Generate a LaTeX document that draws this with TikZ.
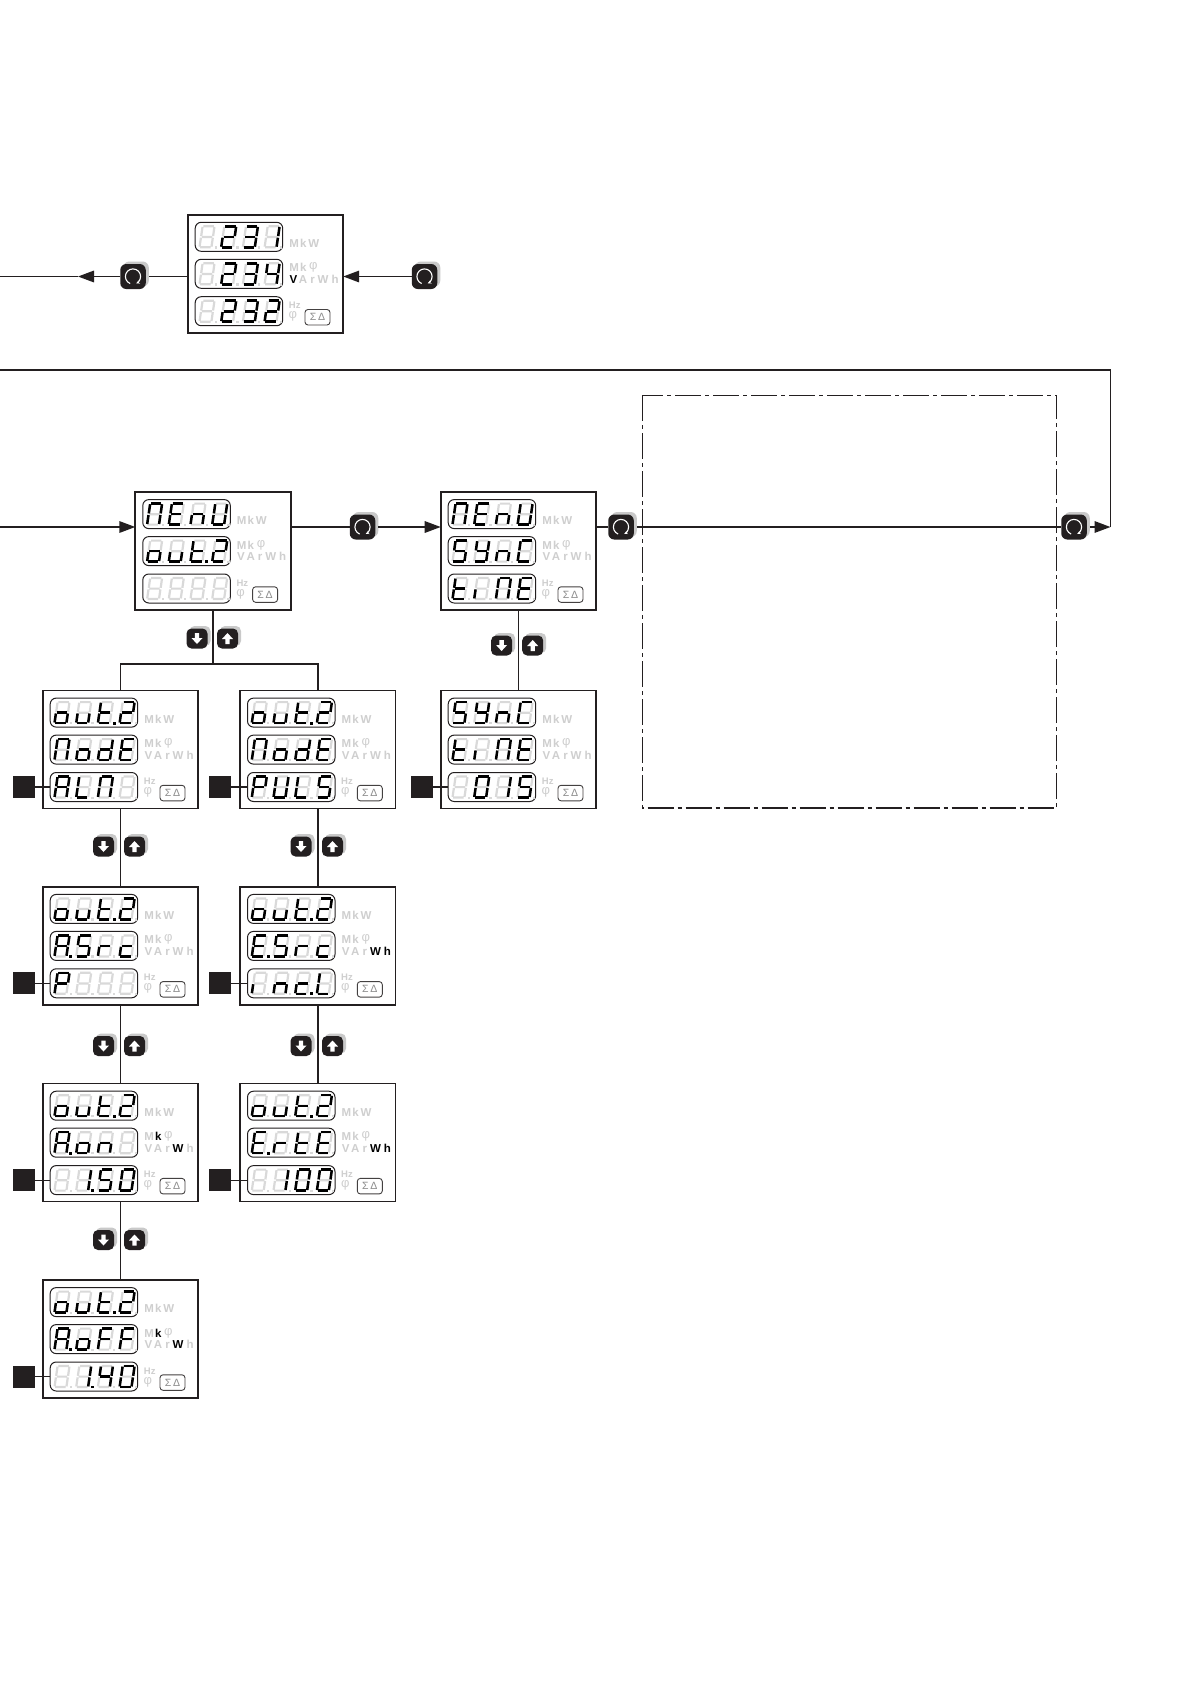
\documentclass[tikz,border=0pt]{standalone}
\usepackage{fontspec}
\setmainfont{Liberation Sans}
\usetikzlibrary{arrows.meta}
\definecolor{ink}{HTML}{231F20}
\definecolor{uoff}{HTML}{CFCFCF}
\definecolor{segoff}{HTML}{D9D9D9}
\definecolor{shade}{HTML}{C9C9C9}
\tikzset{
  panelbox/.style={draw=ink,line width=1.7pt,minimum width=155.5pt,minimum height=118pt,inner sep=0pt,outer sep=0pt,anchor=north west},
  dispbox/.style={draw=ink,line width=1pt,rounded corners=6pt,minimum width=87.5pt,minimum height=29pt,inner sep=0pt,outer sep=0pt,anchor=north west},
  sumbox/.style={draw=ink!85,line width=0.9pt,rounded corners=3pt,minimum width=25pt,minimum height=15.5pt,inner sep=0pt,outer sep=0pt,anchor=north west,text=black!45,font=\fontsize{10.5}{10.5}\selectfont},
  setbox/.style={fill=ink,minimum size=22pt,inner sep=0pt,outer sep=0pt},
  conn/.style={draw=ink,line width=1.7pt},
  thin conn/.style={draw=ink,line width=1.1pt},
  arr/.style={conn,-{Triangle[length=16pt,width=11.5pt]}},
  knobbox/.style={fill=ink,rounded corners=6pt,minimum width=25.5pt,minimum height=25pt,inner sep=0pt,outer sep=0pt},
  btnbox/.style={fill=ink,rounded corners=5pt,minimum width=21pt,minimum height=20pt,inner sep=0pt,outer sep=0pt},
  shadebox/.style={fill=shade,rounded corners=6pt,minimum width=25.5pt,minimum height=25pt,inner sep=0pt,outer sep=0pt},
  ulabel/.style={anchor=base west,inner sep=0pt,outer sep=0pt,font=\fontsize{11.5}{11.5}\selectfont\bfseries},
  uphi/.style={anchor=base west,inner sep=0pt,outer sep=0pt,font=\fontsize{13}{13}\selectfont,text=uoff},
  usmall/.style={anchor=base west,inner sep=0pt,outer sep=0pt,font=\fontsize{9.5}{9.5}\selectfont\bfseries,text=uoff},
  sgon/.style={draw=black,line width=2.5pt,line cap=butt},
  sgoff/.style={draw=segoff,line width=2.2pt,line cap=butt},
  dashbox/.style={draw=ink,line width=1.1pt,dash pattern=on 26pt off 4pt on 4pt off 4pt},
}
\makeatletter
\newcommand\segA{(4.2,0.6)--(14.6,0.6)}
\newcommand\segB{(15.2,1.2)--(13.9,10.4)}
\newcommand\segC{(13.6,12)--(12.3,21)}
\newcommand\segD{(0.9,21.6)--(11.4,21.6)}
\newcommand\segE{(0.4,21)--(1.7,12)}
\newcommand\segF{(2,10.4)--(3.3,1.2)}
\newcommand\segG{(2.6,11.2)--(12.8,11.2)}
\newcommand\sga{\draw[sgon] \segA;}
\newcommand\sgb{\draw[sgon] \segB;}
\newcommand\sgc{\draw[sgon] \segC;}
\newcommand\sgd{\draw[sgon] \segD;}
\newcommand\sge{\draw[sgon] \segE;}
\newcommand\sgf{\draw[sgon] \segF;}
\newcommand\sgg{\draw[sgon] \segG;}
\newcommand\sgp{\fill[black] (15.2,20.2) rectangle (18,23);}
\newcommand\segall{\draw[sgoff] \segA \segB \segC \segD \segE \segF \segG;\fill[segoff] (15.4,20.6) rectangle (17.6,22.8);}
\def\segloop#1{\ifx#1\relax\else\csname sg#1\endcsname\expandafter\segloop\fi}
\newcommand\digitat[2]{\begin{scope}[shift={(#1,0)}]\segall\segloop#2\relax\end{scope}}
\newcommand\disprow[6]{%
  \node[dispbox] (\pn-d#1) at (7.5,#2) {};
  \begin{scope}[shift={(11.5,#2+3.4)}]
    \digitat{0}{#3}\digitat{21.7}{#4}\digitat{43.4}{#5}\digitat{65.1}{#6}
  \end{scope}}
\newcommand\unitl[4]{%
  \def\tsttok{\in@{#2}}\expandafter\tsttok\expandafter{\onset}%
  \ifin@\def\ucl{black}\else\def\ucl{uoff}\fi
  \node[ulabel,text=\ucl] (\pn-#1) at (#3,#4) {#2};}
\newcommand\unito[4]{\node[ulabel,text=uoff] (\pn-#1) at (#3,#4) {#2};}
% name, x, y, lit units, row1, row2, row3
\newcommand\panel[7]{%
  \def\pn{#1}\def\onset{#4}%
  \node[panelbox] (#1) at (#2,#3) {};
  \begin{scope}[shift={(#2,#3)}]
    \disprow{1}{7.6}#5
    \disprow{2}{44.6}#6
    \disprow{3}{82}#7
    \unito{a1}{M}{101.6}{32.6}\unito{a2}{k}{112.3}{32.6}\unito{a3}{W}{120.6}{32.6}
    \unito{b1}{M}{101.6}{57}\unitl{b2}{k}{112.3}{57}
    \node[uphi] (\pn-b3) at (121.5,55) {φ};
    \unitl{c1}{V}{101.8}{68.7}\unito{c2}{A}{111.2}{68.7}\unito{c3}{r}{122.6}{68.7}\unitl{c4}{W}{130}{68.7}\unitl{c5}{h}{143.8}{68.7}
    \node[usmall] (\pn-e1) at (101.2,94) {Hz};
    \node[uphi] (\pn-e2) at (101,104) {φ};
    \node[sumbox] (\pn-s) at (117.3,94.8) {Σ\,Δ};
  \end{scope}}
\newcommand\knob[3]{%
  \node[shadebox] (#1s) at (#2+3,#3-2.5) {};
  \node[knobbox] (#1) at (#2,#3) {};
  \draw[white,line width=1.1pt,-{Stealth[length=3.5pt,width=3.5pt]}] (#1) ++(112:7.6) arc[start angle=112,end angle=425,radius=7.6];}
\newcommand\updown[4]{%
  \node[btnbox,fill=shade] (#1ds) at (#2+3,#4-2.5) {};
  \node[btnbox] (#1d) at (#2,#4) {};
  \fill[white,shift={(#2,#4)}] (-2.2,-5.5)--(2.2,-5.5)--(2.2,-0.5)--(5.5,-0.5)--(0,5.5)--(-5.5,-0.5)--(-2.2,-0.5)--cycle;
  \node[btnbox,fill=shade] (#1us) at (#3+3,#4-2.5) {};
  \node[btnbox] (#1u) at (#3,#4) {};
  \fill[white,shift={(#3,#4)}] (-2.2,5.5)--(2.2,5.5)--(2.2,0.5)--(5.5,0.5)--(0,-5.5)--(-5.5,0.5)--(-2.2,0.5)--cycle;}
\makeatother
\begin{document}
\begin{tikzpicture}[x=1pt,y=-1pt]
\useasboundingbox (0,0) rectangle (1191,1684);
\path[fill=white] (0,0) rectangle (1191,1684);
% dash-dot frame
\draw[dashbox] (642.3,395.3) rectangle (1056.7,808);
% panels
\panel{top}{187.7}{214.7}{V}{{}{abdeg}{abcdg}{bc}}{{}{abdeg}{abcdg}{bcfg}}{{}{abdeg}{abcdg}{abdeg}}
\panel{mo}{135.3}{492}{}{{abcef}{adefg}{ceg}{bcdef}}{{cdeg}{cde}{defgp}{abdeg}}{{}{}{}{}}
\panel{ms}{440.7}{492}{}{{abcef}{adefg}{ceg}{bcdef}}{{acdfg}{bcdfg}{ceg}{adef}}{{defg}{e}{abcef}{adefg}}
\panel{st}{440.7}{690.5}{}{{acdfg}{bcdfg}{ceg}{adef}}{{defg}{e}{abcef}{adefg}}{{}{abcdef}{bc}{acdfg}}
\panel{a1}{42.7}{690.5}{}{{cdeg}{cde}{defgp}{abdeg}}{{abcef}{cdeg}{bcdeg}{adefg}}{{abcefg}{def}{abcef}{}}
\panel{a2}{42.7}{886.8}{}{{cdeg}{cde}{defgp}{abdeg}}{{abcefgp}{acdfg}{eg}{deg}}{{abefg}{}{}{}}
\panel{a3}{42.7}{1083.6}{kW}{{cdeg}{cde}{defgp}{abdeg}}{{abcefgp}{cdeg}{ceg}{}}{{}{bcp}{acdfg}{abcdef}}
\panel{a4}{42.7}{1280}{kW}{{cdeg}{cde}{defgp}{abdeg}}{{abcefgp}{cdeg}{aefg}{aefg}}{{}{bcp}{bcfg}{abcdef}}
\panel{b1}{240}{690.5}{}{{cdeg}{cde}{defgp}{abdeg}}{{abcef}{cdeg}{bcdeg}{adefg}}{{abefg}{bcdef}{def}{acdfg}}
\panel{b2}{240}{886.8}{Wh}{{cdeg}{cde}{defgp}{abdeg}}{{adefgp}{acdfg}{eg}{deg}}{{e}{ceg}{degp}{def}}
\panel{b3}{240}{1083.6}{Wh}{{cdeg}{cde}{defgp}{abdeg}}{{adefgp}{eg}{defg}{adefg}}{{}{bc}{abcdef}{abcdef}}
% set squares
\node[setbox] (qa1) at (24,787) {};
\node[setbox] (qa2) at (24,983.3) {};
\node[setbox] (qa3) at (24,1180.1) {};
\node[setbox] (qa4) at (24,1376.5) {};
\node[setbox] (qb1) at (220,787) {};
\node[setbox] (qb2) at (220,983.3) {};
\node[setbox] (qb3) at (220,1180.1) {};
\node[setbox] (qst) at (422,787) {};
\foreach \q/\p in {qa1/a1,qa2/a2,qa3/a3,qa4/a4,qb1/b1,qb2/b2,qb3/b3,qst/st}
  \draw[thin conn] (\q.east) -- (\q -| \p-d3.west);
% knobs
\knob{k1}{133}{276.5}
\knob{k2}{424.5}{276.5}
\knob{k3}{362.5}{527}
\knob{k4}{621}{527}
\knob{k5}{1074}{527}
% free ends
\coordinate (topend) at (0,276.5);
\coordinate (toptip) at (78,276.5);
\coordinate (retend) at (0,370);
\coordinate (retcorner) at (1110.5,370);
\coordinate (rettip) at (1110.5,527);
\coordinate (inend) at (0,527);
\coordinate (fork) at (213,663.7);
% connectors
\draw[conn] (k1 -| top.west) -- (k1s.east |- k1);
\draw[arr] (k1.west) -- (toptip);
\draw[conn] (toptip) -- (topend);
\draw[arr] (k2.west) -- (k2 -| top.east);
\draw[arr] (inend) -- (inend -| mo.west);
\draw[conn] (k3.west) -- (k3 -| mo.east);
\draw[arr] (k3s.east |- k3) -- (k3 -| ms.west);
\draw[conn] (k4.west) -- (k4 -| ms.east);
\draw[conn] (k4s.east |- k4) -- (k5.west);
\draw[arr] (k5s.east |- k5) -- (rettip);
\draw[conn] (retend) -- (retcorner) -- (rettip);
\draw[conn] (mo.south) -- (fork);
\draw[conn] (a1.north) |- (fork) -| (b1.north);
\draw[conn] (a1.south) -- (a2.north);
\draw[conn] (a2.south) -- (a3.north);
\draw[conn] (a3.south) -- (a4.north);
\draw[conn] (b1.south) -- (b2.north);
\draw[conn] (b2.south) -- (b3.north);
\draw[conn] (ms.south) -- (st.north);
% up/down pairs
\updown{p0}{197}{227.5}{638.5}
\updown{p1}{103.5}{134.5}{846.5}
\updown{p2}{103.5}{134.5}{1046}
\updown{p3}{103.5}{134.5}{1240}
\updown{p4}{301}{332.5}{846.5}
\updown{p5}{301}{332.5}{1046}
\updown{p6}{501.6}{532.7}{645.5}
\end{tikzpicture}
\end{document}
